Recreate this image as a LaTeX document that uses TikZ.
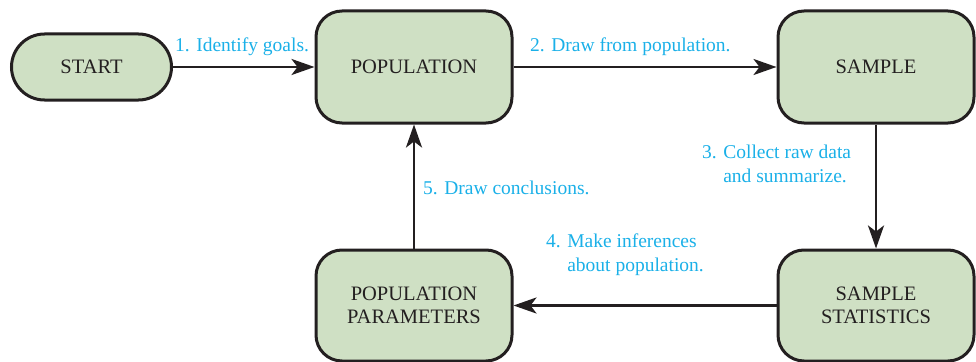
\documentclass[tikz,border=0pt]{standalone}
\usepackage{fontspec}
\setmainfont{Liberation Serif}
\usetikzlibrary{arrows.meta}
\definecolor{boxgreen}{HTML}{CFE0C4}
\definecolor{lblue}{HTML}{1AB0E8}
\definecolor{edgec}{HTML}{231F20}
\begin{document}
\begin{tikzpicture}[x=1pt,y=-1pt,
  box/.style={draw=edgec, fill=boxgreen, line width=3pt, rounded corners=26pt,
    minimum width=196pt, minimum height=112pt, inner sep=0pt, align=center,
    font=\fontsize{20.5}{23}\selectfont, text=edgec},
  pill/.style={box, rounded corners=33pt, minimum width=160pt, minimum height=66pt},
  conn/.style={draw=edgec, line width=2.8pt, -{Stealth[length=23pt,width=16pt,inset=6pt]}},
  lbl/.style={text=lblue, font=\fontsize{19.5}{24}\selectfont, inner sep=0pt, align=left}]
\useasboundingbox (0,0) rectangle (976,361);
\node[pill] (start) at (91.5,67) {START};
\node[box] (pop) at (414,67) {POPULATION};
\node[box] (samp) at (876,67) {SAMPLE};
\node[box, minimum height=111pt] (stat) at (876,305.5) {SAMPLE\\STATISTICS};
\node[box, minimum height=111pt] (par) at (414,305.5) {POPULATION\\PARAMETERS};
\draw[conn] (start) -- (pop);
\draw[conn] (pop) -- (samp);
\draw[conn] (samp) -- (stat);
\draw[conn] (stat) -- (par);
\draw[conn] (par) -- (pop);
\node[lbl, anchor=base west] (l1) at (175,52) {1. Identify goals.};
\node[lbl, anchor=base west] (l2) at (530,52) {2. Draw from population.};
\node[lbl, anchor=base west] (l3) at (702,182) {3. Collect raw data\\\hphantom{3. }and summarize.};
\node[lbl, anchor=base west] (l4) at (546,271) {4. Make inferences\\\hphantom{4. }about population.};
\node[lbl, anchor=base west] (l5) at (423,194) {5. Draw conclusions.};
\end{tikzpicture}
\end{document}
